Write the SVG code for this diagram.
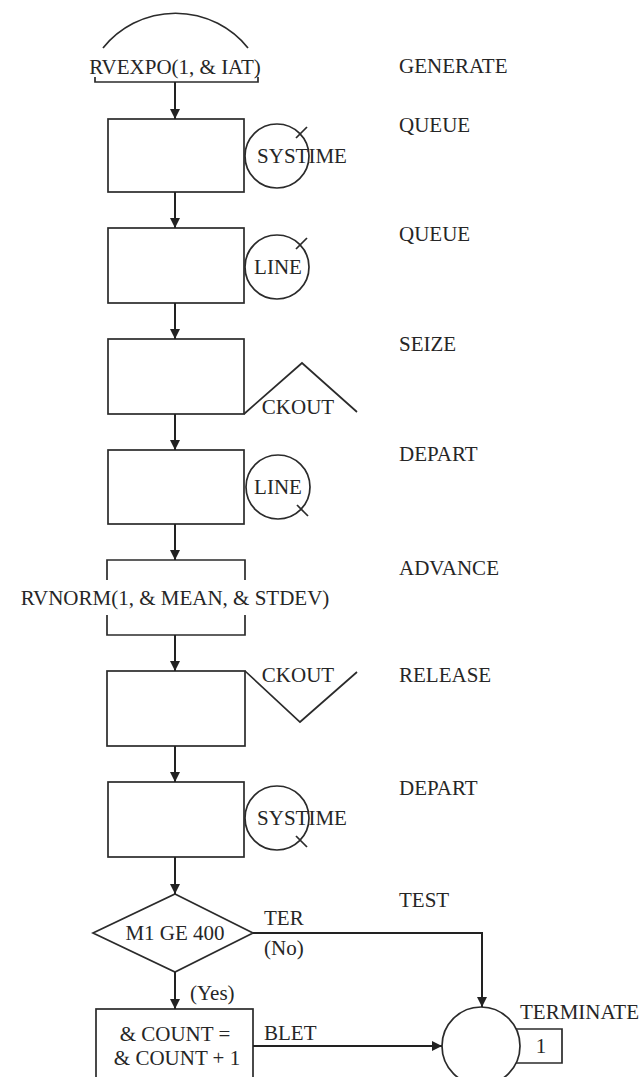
<svg xmlns="http://www.w3.org/2000/svg" width="643" height="1077" viewBox="0 0 643 1077">
<style>
.s{fill:none;stroke:#2b2b2b;stroke-width:1.7}
.t{font-family:"Liberation Serif","Times New Roman",serif;font-size:21px;fill:#262626}
.m{text-anchor:middle}
.c{stroke:#222;stroke-width:2;fill:none}
</style>
<defs>
<marker id="ah" viewBox="0 0 10 10" refX="10" refY="5" markerWidth="11" markerHeight="10" markerUnits="userSpaceOnUse" orient="auto">
<path d="M0,0 L10,5 L0,10 z" fill="#222"/>
</marker>
</defs>
<rect width="643" height="1077" fill="#ffffff"/>

<g id="generate">
<path class="s" d="M103,48 A93,93 0 0 1 248,48"/>
<text class="t m" x="175" y="74">RVEXPO(1, &amp; IAT)</text>
<path class="s" d="M95,77 V82 H258 V77"/>
</g>

<g id="queue1">
<rect class="s" x="108" y="119" width="136" height="73"/>
<circle class="s" cx="277" cy="156" r="32"/>
<line class="s" x1="296" y1="138" x2="307" y2="127"/>
<text class="t m" x="302" y="163">SYSTIME</text>
</g>

<g id="queue2">
<rect class="s" x="108" y="228" width="136" height="75"/>
<circle class="s" cx="277" cy="267" r="32"/>
<line class="s" x1="296" y1="249" x2="307" y2="238"/>
<text class="t m" x="278" y="274">LINE</text>
</g>

<g id="seize">
<rect class="s" x="108" y="339" width="136" height="75"/>
<path class="s" d="M244,414 L302,363 L357,412"/>
<text class="t m" x="298" y="414">CKOUT</text>
</g>

<g id="depart1">
<rect class="s" x="108" y="450" width="136" height="74"/>
<circle class="s" cx="278" cy="487" r="32"/>
<line class="s" x1="297" y1="505" x2="308" y2="516"/>
<text class="t m" x="278" y="494">LINE</text>
</g>

<g id="advance">
<path class="s" d="M107,580 V560 H245 V580 M107,615 V635 H245 V615"/>
<text class="t m" x="175" y="605">RVNORM(1, &amp; MEAN, &amp; STDEV)</text>
</g>

<g id="release">
<rect class="s" x="107" y="671" width="138" height="75"/>
<path class="s" d="M245,671 L300,722 L357,672"/>
<text class="t m" x="298" y="682">CKOUT</text>
</g>

<g id="depart2">
<rect class="s" x="108" y="782" width="136" height="75"/>
<circle class="s" cx="277" cy="818" r="32"/>
<line class="s" x1="296" y1="836" x2="307" y2="847"/>
<text class="t m" x="302" y="825">SYSTIME</text>
</g>

<g id="test">
<path class="s" d="M175,894 L253,933 L175,972 L93,933 Z"/>
<text class="t m" x="175" y="940">M1 GE 400</text>
</g>

<g id="blet">
<rect class="s" x="96" y="1009" width="157" height="80"/>
<text class="t m" x="175" y="1041">&amp; COUNT =</text>
<text class="t m" x="177" y="1065">&amp; COUNT + 1</text>
</g>

<g id="terminate">
<circle class="s" cx="481" cy="1046" r="39"/>
<path class="s" d="M516,1029 H562 V1063 H516"/>
<text class="t m" x="541" y="1053">1</text>
</g>

<g id="connectors">
<line class="c" x1="175" y1="82" x2="175" y2="119" marker-end="url(#ah)"/>
<line class="c" x1="175" y1="192" x2="175" y2="228" marker-end="url(#ah)"/>
<line class="c" x1="175" y1="303" x2="175" y2="339" marker-end="url(#ah)"/>
<line class="c" x1="175" y1="414" x2="175" y2="450" marker-end="url(#ah)"/>
<line class="c" x1="175" y1="524" x2="175" y2="560" marker-end="url(#ah)"/>
<line class="c" x1="175" y1="635" x2="175" y2="671" marker-end="url(#ah)"/>
<line class="c" x1="175" y1="746" x2="175" y2="782" marker-end="url(#ah)"/>
<line class="c" x1="175" y1="857" x2="175" y2="894" marker-end="url(#ah)"/>
<line class="c" x1="175" y1="972" x2="175" y2="1009" marker-end="url(#ah)"/>
<path class="c" d="M253,933 H482 V1007" marker-end="url(#ah)"/>
<line class="c" x1="253" y1="1046" x2="442" y2="1046" marker-end="url(#ah)"/>
<text class="t" x="264" y="925">TER</text>
<text class="t" x="264" y="955">(No)</text>
<text class="t" x="190" y="1000">(Yes)</text>
<text class="t" x="264" y="1040">BLET</text>
</g>

<g id="labels">
<text class="t" x="399" y="73">GENERATE</text>
<text class="t" x="399" y="132">QUEUE</text>
<text class="t" x="399" y="241">QUEUE</text>
<text class="t" x="399" y="351">SEIZE</text>
<text class="t" x="399" y="461">DEPART</text>
<text class="t" x="399" y="575">ADVANCE</text>
<text class="t" x="399" y="682">RELEASE</text>
<text class="t" x="399" y="795">DEPART</text>
<text class="t" x="399" y="907">TEST</text>
<text class="t" x="520" y="1019">TERMINATE</text>
</g>
</svg>
